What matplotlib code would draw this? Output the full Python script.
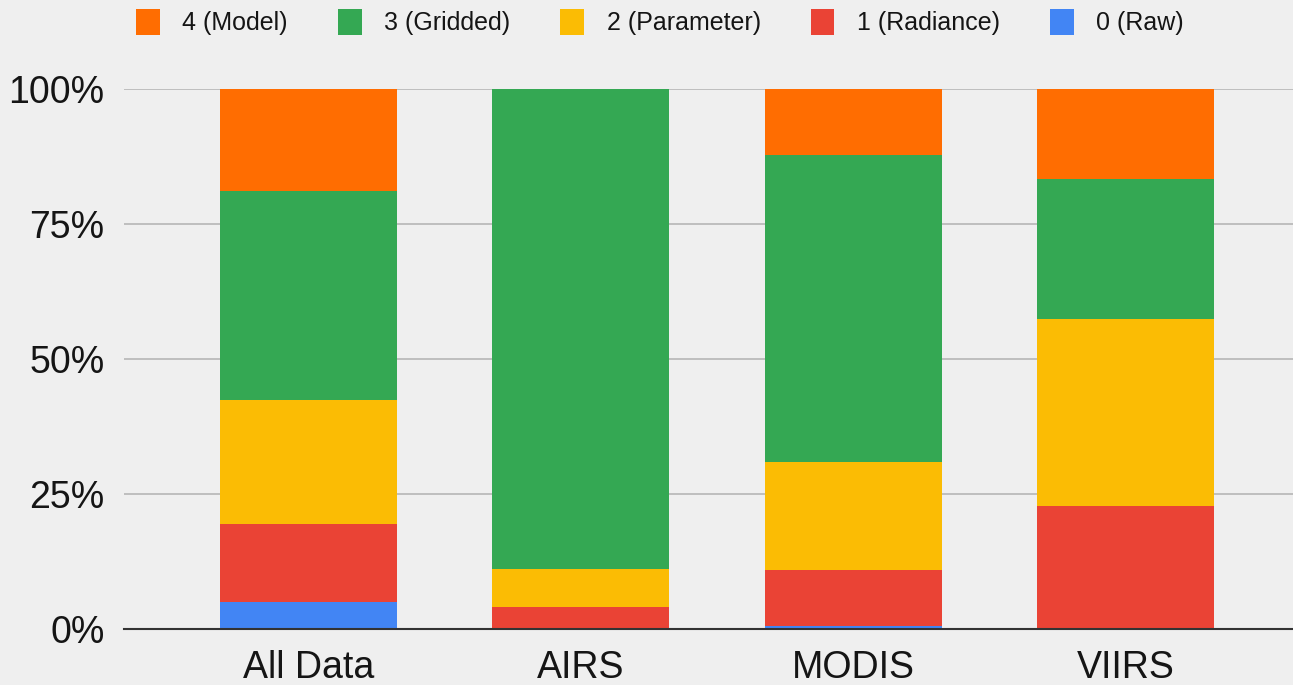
import numpy as np
import matplotlib
matplotlib.use("Agg")
import matplotlib.pyplot as plt
from matplotlib.patches import Patch

categories = ["All Data", "AIRS", "MODIS", "VIIRS"]
raw = [5.0, 0.0, 0.6, 0.0]
radiance = [14.4, 4.1, 10.3, 22.8]
parameter = [23.0, 7.1, 20.0, 34.6]
gridded = [38.8, 88.8, 56.9, 25.9]
model = [18.8, 0.0, 12.2, 16.7]
yticks = [0, 25, 50, 75, 100]

series = [
    ("0 (Raw)", raw, "#4285F4"),
    ("1 (Radiance)", radiance, "#EA4335"),
    ("2 (Parameter)", parameter, "#FBBC04"),
    ("3 (Gridded)", gridded, "#34A853"),
    ("4 (Model)", model, "#FF6D01"),
]

plt.rcParams["font.family"] = ["Liberation Sans", "DejaVu Sans"]
bg = "#EFEFEF"
txt = "#151515"

fig = plt.figure(figsize=(12.93, 6.85), dpi=100, facecolor=bg)
ax = fig.add_axes([124 / 1293, 56 / 685, 1 - 124 / 1293, 540 / 685])
ax.set_facecolor(bg)

x = np.arange(len(categories))
bottom = np.zeros(len(categories))
for name, vals, color in series:
    vals = np.array(vals)
    ax.bar(x, vals, width=0.65, bottom=bottom, color=color, label=name, zorder=3)
    bottom += vals

ax.set_xlim(-0.678, 3.616)
ax.set_ylim(0, 100)
ax.set_yticks(yticks)
ax.set_yticklabels([f"{t}%" for t in yticks])
ax.set_xticks(x)
ax.set_xticklabels(categories)
ax.tick_params(axis="y", length=0, pad=14, labelsize=27, labelcolor=txt)
ax.tick_params(axis="x", length=0, pad=15, labelsize=27, labelcolor=txt)
ax.grid(axis="y", color="#BEBEBE", linewidth=1.4, zorder=0)
for s in ["top", "right", "left"]:
    ax.spines[s].set_visible(False)
ax.spines["bottom"].set_color("#333333")
ax.spines["bottom"].set_linewidth(1.5)
ax.spines["bottom"].set_zorder(4)

handles = [Patch(facecolor=c, label=n) for n, v, c in reversed(series)]
fig.legend(handles=handles, loc="center", bbox_to_anchor=(660 / 1293, 1 - 22 / 685),
           ncol=5, frameon=False, fontsize=18, handlelength=0.95, handleheight=1.2,
           handletextpad=0.9, columnspacing=2.0, labelcolor=txt)

fig.savefig("out.png", dpi=100, facecolor=bg)
